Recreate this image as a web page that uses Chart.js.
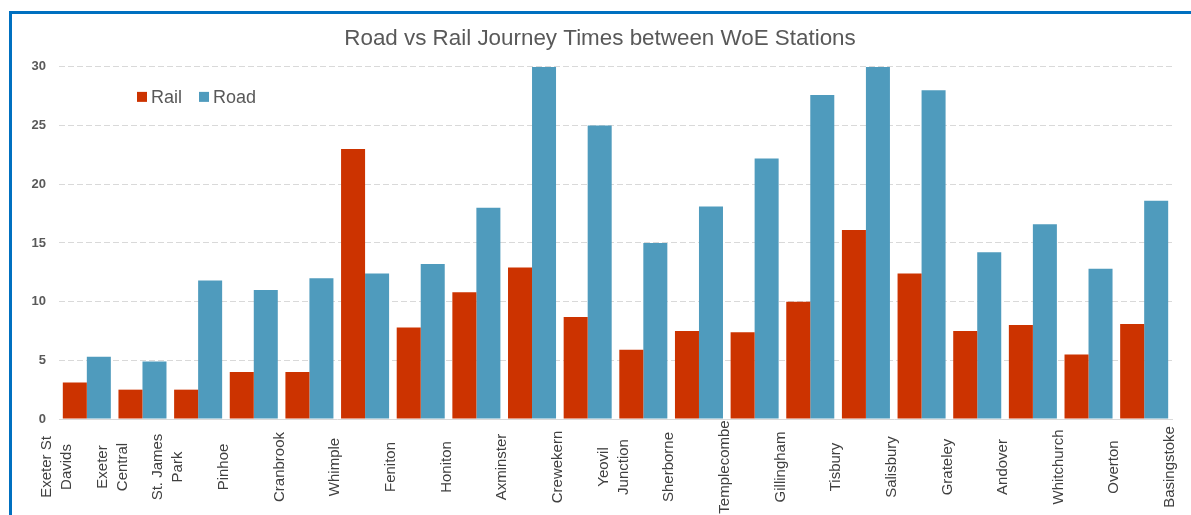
<!DOCTYPE html>
<html>
<head>
<meta charset="utf-8">
<script src="https://cdn.jsdelivr.net/npm/chart.js@4"></script>
<style>
    html, body { margin: 0; padding: 0; background: #fff; overflow: hidden; }
    .frame {
        position: absolute;
        left: 9px;
        top: 11px;
        width: 1300px;
        height: 600px;
        border: 3px solid #0070c0;
    }
    #chart { position: absolute; left: 0; top: 0; }
</style>
</head>
<body>
<div class="frame"></div>
<canvas id="chart" width="1191" height="515"></canvas>
<script>
// Stations along the line (labels sit on the boundaries between bars)
const stations = [
    ['Exeter St', 'Davids'], ['Exeter', 'Central'], ['St. James', 'Park'], 'Pinhoe', 'Cranbrook',
    'Whimple', 'Feniton', 'Honiton', 'Axminster', 'Crewekern', ['Yeovil', 'Junction'],
    'Sherborne', 'Templecombe', 'Gillingham', 'Tisbury', 'Salisbury', 'Grateley',
    'Andover', 'Whitchurch', 'Overton', 'Basingstoke'
];

// Journey time (minutes) between consecutive stations
const rail = [3.1, 2.5, 2.5, 4.0, 4.0, 23.0, 7.8, 10.8, 12.9, 8.7, 5.9, 7.5, 7.4, 10.0, 16.1, 12.4, 7.5, 8.0, 5.5, 8.1];
const road = [5.3, 4.9, 11.8, 11.0, 12.0, 12.4, 13.2, 18.0, 30.0, 25.0, 15.0, 18.1, 22.2, 27.6, 30.0, 28.0, 14.2, 16.6, 12.8, 18.6];

const yTicks = [0, 5, 10, 15, 20, 25, 30];

const plainName = s => Array.isArray(s) ? s.join(' ') : s;
const segments = stations.slice(1).map((s, i) => plainName(stations[i]) + ' - ' + plainName(s));

const FONT = '"Liberation Sans", Arial, sans-serif';

// Legend drawn inside the plot, top-left
const innerLegend = {
    id: 'innerLegend',
    afterDraw(chart) {
        const ctx = chart.ctx;
        const area = chart.chartArea;
        let x = area.left + 78;
        const y = area.top + 30;
        ctx.save();
        ctx.font = '18px ' + FONT;
        ctx.textBaseline = 'middle';
        ctx.textAlign = 'left';
        chart.data.datasets.forEach(ds => {
            ctx.fillStyle = ds.backgroundColor;
            ctx.fillRect(x, y - 5, 10, 10);
            ctx.fillStyle = '#595959';
            ctx.fillText(ds.label, x + 14, y + 1);
            x += 14 + ctx.measureText(ds.label).width + 17;
        });
        ctx.restore();
    }
};

// Station names, rotated and centred on the boundary ticks of the x2 scale
const stationLabels = {
    id: 'stationLabels',
    afterDraw(chart) {
        const ctx = chart.ctx;
        const sc = chart.scales.x2;
        const cy = sc.top + 48;
        ctx.save();
        ctx.font = '15px ' + FONT;
        ctx.fillStyle = '#404040';
        ctx.textAlign = 'center';
        ctx.textBaseline = 'middle';
        stations.forEach((name, k) => {
            const lines = Array.isArray(name) ? name : [name];
            const px = sc.getPixelForValue(k) - 2;
            ctx.save();
            ctx.translate(px, cy);
            ctx.rotate(-Math.PI / 2);
            lines.forEach((line, i) => {
                ctx.fillText(line, 0, (i - (lines.length - 1) / 2) * 20);
            });
            ctx.restore();
        });
        ctx.restore();
    }
};

new Chart(document.getElementById('chart'), {
    type: 'bar',
    data: {
        labels: segments,
        datasets: [
            { label: 'Rail', data: rail, backgroundColor: '#cc3300', categoryPercentage: 0.863, barPercentage: 1.0 },
            { label: 'Road', data: road, backgroundColor: '#4f9bbd', categoryPercentage: 0.863, barPercentage: 1.0 }
        ]
    },
    options: {
        responsive: false,
        animation: false,
        layout: { padding: { left: 28, right: 19, top: 0, bottom: 0 } },
        plugins: {
            legend: { display: false },
            tooltip: { enabled: false },
            title: {
                display: true,
                text: 'Road vs Rail Journey Times between WoE Stations',
                color: '#595959',
                font: { family: FONT, size: 22.4, weight: 'normal' },
                padding: { top: 25, bottom: 15 }
            }
        },
        scales: {
            x: {
                display: false
            },
            x2: {
                type: 'linear',
                position: 'bottom',
                offset: false,
                min: 0,
                max: stations.length - 1,
                grid: { display: false },
                border: { display: true, color: '#d9d9d9', width: 1 },
                ticks: { display: false, stepSize: 1 },
                afterFit(scale) { scale.height = 96; }
            },
            y: {
                min: 0,
                max: yTicks[yTicks.length - 1],
                afterBuildTicks(scale) { scale.ticks = yTicks.map(v => ({ value: v })); },
                afterFit(scale) { scale.width = 31; },
                border: { display: false, dash: [6, 3] },
                grid: { color: '#d9d9d9', drawTicks: false },
                ticks: {
                    padding: 13,
                    color: '#595959',
                    font: { family: FONT, size: 13, weight: 'bold' }
                }
            }
        }
    },
    plugins: [innerLegend, stationLabels]
});
</script>
</body>
</html>
